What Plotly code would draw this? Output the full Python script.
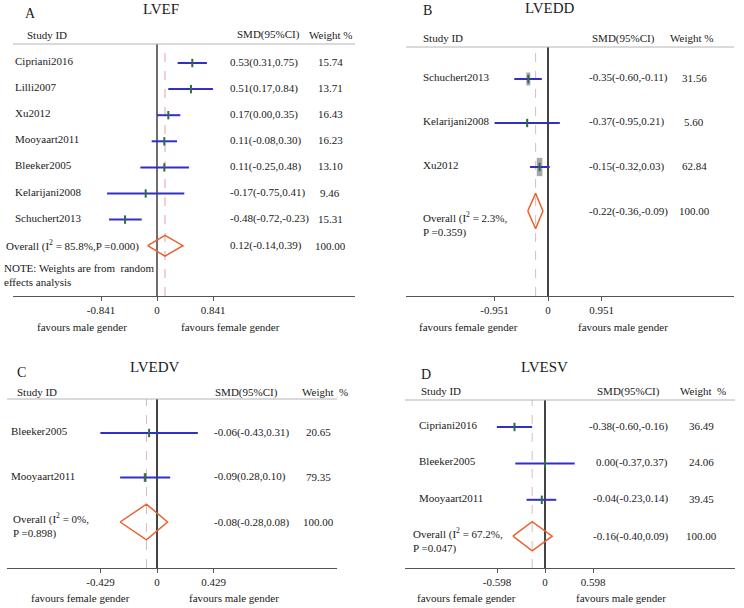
import plotly.graph_objects as go

W, H = 744, 608

# ---------------- data ----------------
# Panel A: LVEF
a_studies = ["Cipriani2016", "Lilli2007", "Xu2012", "Mooyaart2011", "Bleeker2005", "Kelarijani2008", "Schuchert2013"]
a_smd = [0.53, 0.51, 0.17, 0.11, 0.11, -0.17, -0.48]
a_lo = [0.31, 0.17, 0.00, -0.08, -0.25, -0.75, -0.72]
a_hi = [0.75, 0.84, 0.35, 0.30, 0.48, 0.41, -0.23]
a_ci_text = ["0.53(0.31,0.75)", "0.51(0.17,0.84)", "0.17(0.00,0.35)", "0.11(-0.08,0.30)",
             "0.11(-0.25,0.48)", "-0.17(-0.75,0.41)", "-0.48(-0.72,-0.23)"]
a_weight = [15.74, 13.71, 16.43, 16.23, 13.10, 9.46, 15.31]
a_overall = [0.12, -0.14, 0.39]
a_overall_text = "0.12(-0.14,0.39)"
a_overall_label = "Overall (I<sup>2</sup> = 85.8%,P =0.000)"
a_tick = 0.841

# Panel B: LVEDD
b_studies = ["Schuchert2013", "Kelarijani2008", "Xu2012"]
b_smd = [-0.35, -0.37, -0.15]
b_lo = [-0.60, -0.95, -0.32]
b_hi = [-0.11, 0.21, 0.03]
b_ci_text = ["-0.35(-0.60,-0.11)", "-0.37(-0.95,0.21)", "-0.15(-0.32,0.03)"]
b_weight = [31.56, 5.60, 62.84]
b_overall = [-0.22, -0.36, -0.09]
b_overall_text = "-0.22(-0.36,-0.09)"
b_overall_label = "Overall (I<sup>2</sup> = 2.3%,<br>P =0.359)"
b_tick = 0.951

# Panel C: LVEDV
c_studies = ["Bleeker2005", "Mooyaart2011"]
c_smd = [-0.06, -0.09]
c_lo = [-0.43, -0.28]
c_hi = [0.31, 0.10]
c_ci_text = ["-0.06(-0.43,0.31)", "-0.09(0.28,0.10)"]
c_weight = [20.65, 79.35]
c_overall = [-0.08, -0.28, 0.08]
c_overall_text = "-0.08(-0.28,0.08)"
c_overall_label = "Overall (I<sup>2</sup> = 0%,<br>P =0.898)"
c_tick = 0.429

# Panel D: LVESV
d_studies = ["Cipriani2016", "Bleeker2005", "Mooyaart2011"]
d_smd = [-0.38, 0.00, -0.04]
d_lo = [-0.60, -0.37, -0.23]
d_hi = [-0.16, 0.37, 0.14]
d_ci_text = ["-0.38(-0.60,-0.16)", "0.00(-0.37,0.37)", "-0.04(-0.23,0.14)"]
d_weight = [36.49, 24.06, 39.45]
d_overall = [-0.16, -0.40, 0.09]
d_overall_text = "-0.16(-0.40,0.09)"
d_overall_label = "Overall (I<sup>2</sup> = 67.2%,<br>P =0.047)"
d_tick = 0.598

titles = ["LVEF", "LVEDD", "LVEDV", "LVESV"]
letters = ["A", "B", "C", "D"]
favours = [("favours male gender", "favours female gender"),
           ("favours female gender", "favours male gender"),
           ("favours female gender", "favours male gender"),
           ("favours female gender", "favours male gender")]

# ---------------- layout geometry (pixels) ----------------
panels = [
    dict(studies=a_studies, smd=a_smd, lo=a_lo, hi=a_hi, ci=a_ci_text, wt=a_weight,
         ov=a_overall, ovt=a_overall_text, ovl=a_overall_label, tick=a_tick,
         x0=13, x1=355, zero=157, tickpx=56, top=44, bottom=296, row0=63, sp=26.1,
         name_x=13, ov_x=4, ov_shift=0, smd_x=228, smd_anchor="left", w_x=330,
         hdr=(25, 235, 307, 35), letter=(30, 13), title=(161, 9), fav=(82, 230, 327),
         box=(0, 0), zcol="#6e6e6e", zw=2, dcol="#e6a0a0", wlabel="Weight %"),
    dict(studies=b_studies, smd=b_smd, lo=b_lo, hi=b_hi, ci=b_ci_text, wt=b_weight,
         ov=b_overall, ovt=b_overall_text, ovl=b_overall_label, tick=b_tick,
         x0=406, x1=734, zero=548, tickpx=53.5, top=47, bottom=296, row0=79, sp=44,
         name_x=421, ov_x=421, ov_shift=-13, smd_x=587, smd_anchor="left", w_x=694,
         hdr=(421, 590, 668, 38), letter=(427, 11), title=(550, 8), fav=(468, 623, 327),
         box=(0.71, 2.31), zcol="#444444", zw=1.5, dcol="#d9bcbc", wlabel="Weight %"),
    dict(studies=c_studies, smd=c_smd, lo=c_lo, hi=c_hi, ci=c_ci_text, wt=c_weight,
         ov=c_overall, ovt=c_overall_text, ovl=c_overall_label, tick=c_tick,
         x0=7, x1=337, zero=157, tickpx=56.5, top=399, bottom=568, row0=433, sp=44.5,
         name_x=9, ov_x=11, ov_shift=-3, smd_x=212, smd_anchor="left", w_x=318,
         hdr=(15, 213, 300, 392), letter=(21, 372), title=(155, 367), fav=(80, 234, 598),
         box=(0.34, 1.0), zcol="#444444", zw=1.5, dcol="#d9bcbc", wlabel="Weight  %"),
    dict(studies=d_studies, smd=d_smd, lo=d_lo, hi=d_hi, ci=d_ci_text, wt=d_weight,
         ov=d_overall, ovt=d_overall_text, ovl=d_overall_label, tick=d_tick,
         x0=405, x1=735, zero=545, tickpx=48, top=400, bottom=568, row0=427, sp=36.4,
         name_x=417, ov_x=411, ov_shift=-4, smd_x=670, smd_anchor="right", w_x=701,
         hdr=(419, 595, 678, 391), letter=(426, 374), title=(544, 367), fav=(466, 621, 598),
         box=(0, 0), zcol="#444444", zw=1.5, dcol="#d9bcbc", wlabel="Weight  %"),
]

FONT = "Liberation Serif"
TXT = "#1a1a1a"
CI_COL = "#3030c8"
PT_COL = "#2d6e3e"
DIA_COL = "#e8622f"

fig = go.Figure()
annotations = []
shapes = []
layout = {}


def px(xp):
    return xp / W


def py(yp):
    return 1 - yp / H


for i, p in enumerate(panels, start=1):
    sx = "" if i == 1 else str(i)
    xref, yref = "x" + sx, "y" + sx
    scale = p["tickpx"] / p["tick"]
    xr = [(p["x0"] - p["zero"]) / scale, (p["x1"] - p["zero"]) / scale]
    yr = [1 + (p["bottom"] - p["row0"]) / p["sp"], 1 - (p["row0"] - p["top"]) / p["sp"]]
    n = len(p["studies"])
    rows = list(range(1, n + 1))
    ov_row = n + 1

    layout["xaxis" + sx] = dict(
        domain=[px(p["x0"]), px(p["x1"])], range=xr, anchor=yref,
        tickvals=[-p["tick"], 0, p["tick"]],
        ticktext=[f"-{p['tick']:.3f}", "0", f"{p['tick']:.3f}"],
        ticks="outside", ticklen=4, tickcolor="#555", showline=True, linecolor="#555",
        linewidth=1, showgrid=False, zeroline=True, zerolinecolor=p["zcol"],
        zerolinewidth=p["zw"], tickfont=dict(family=FONT, size=11, color=TXT),
        fixedrange=True,
    )
    layout["yaxis" + sx] = dict(
        domain=[py(p["bottom"]), py(p["top"])], range=yr, anchor=xref,
        visible=False, showgrid=False, zeroline=False, fixedrange=True,
    )

    # header line
    shapes.append(dict(type="line", xref=xref + " domain", yref=yref + " domain",
                       x0=0, x1=1, y0=1, y1=1, line=dict(color="#b4b4b4", width=1)))
    # dashed overall line
    shapes.append(dict(type="line", xref=xref, yref=yref + " domain",
                       x0=p["ov"][0], x1=p["ov"][0], y0=0, y1=1,
                       line=dict(color=p["dcol"], width=1, dash="dash"), layer="below"))
    # weight boxes
    kw, kh = p["box"]
    if kw > 0:
        for r, e, w in zip(rows, p["smd"], p["wt"]):
            hw = kw * w ** 0.5 / 2 / scale
            hh = kh * w ** 0.5 / 2 / p["sp"]
            shapes.append(dict(type="rect", xref=xref, yref=yref, x0=e - hw, x1=e + hw,
                               y0=r - hh, y1=r + hh, fillcolor="#a8a8a8",
                               line=dict(width=0), layer="below"))

    # CI lines
    cx, cy = [], []
    for r, lo, hi in zip(rows, p["lo"], p["hi"]):
        cx += [lo, hi, None]
        cy += [r, r, None]
    fig.add_trace(go.Scatter(x=cx, y=cy, mode="lines", xaxis=xref, yaxis=yref,
                             line=dict(color=CI_COL, width=2), hoverinfo="skip"))
    # point estimates
    fig.add_trace(go.Scatter(x=p["smd"], y=rows, mode="markers", xaxis=xref, yaxis=yref,
                             marker=dict(symbol="line-ns", size=6,
                                         line=dict(color=PT_COL, width=2)),
                             hoverinfo="skip"))
    # overall diamond
    e, lo, hi = p["ov"]
    h = 0.4
    fig.add_trace(go.Scatter(x=[lo, e, hi, e, lo], y=[ov_row, ov_row - h, ov_row, ov_row + h, ov_row],
                             mode="lines", xaxis=xref, yaxis=yref,
                             line=dict(color=DIA_COL, width=1.5), hoverinfo="skip"))

    f = dict(family=FONT, size=11, color=TXT)
    # row texts
    for r, name, ci, w in zip(rows, p["studies"], p["ci"], p["wt"]):
        annotations.append(dict(x=px(p["name_x"]), y=r, xref="paper", yref=yref, text=name,
                                showarrow=False, xanchor="left", yanchor="middle", font=f, yshift=2))
        annotations.append(dict(x=px(p["smd_x"]), y=r, xref="paper", yref=yref, text=ci,
                                showarrow=False, xanchor=p["smd_anchor"], yanchor="middle",
                                font=f, yshift=1))
        annotations.append(dict(x=px(p["w_x"]), y=r, xref="paper", yref=yref, text=f"{w:.2f}",
                                showarrow=False, xanchor="center", yanchor="middle",
                                font=f, yshift=1))
    # overall texts
    annotations.append(dict(x=px(p["ov_x"]), y=ov_row, xref="paper", yref=yref, text=p["ovl"],
                            showarrow=False, xanchor="left", yanchor="middle", align="left",
                            font=f, yshift=p["ov_shift"]))
    annotations.append(dict(x=px(p["smd_x"]), y=ov_row, xref="paper", yref=yref, text=p["ovt"],
                            showarrow=False, xanchor=p["smd_anchor"], yanchor="middle", font=f))
    annotations.append(dict(x=px(p["w_x"]), y=ov_row, xref="paper", yref=yref, text="100.00",
                            showarrow=False, xanchor="center", yanchor="middle", font=f))

    # headers
    hs, hm, hw_, hy = p["hdr"]
    for hx, txt in [(hs, "Study ID"), (hm, "SMD(95%CI)"), (hw_, p["wlabel"])]:
        annotations.append(dict(x=px(hx), y=py(hy), xref="paper", yref="paper", text=txt,
                                showarrow=False, xanchor="left", yanchor="middle", font=f))
    # panel letter and title
    lx, ly = p["letter"]
    annotations.append(dict(x=px(lx), y=py(ly), xref="paper", yref="paper", text=letters[i - 1],
                            showarrow=False, xanchor="center", yanchor="middle",
                            font=dict(family=FONT, size=14, color=TXT)))
    tx, ty = p["title"]
    annotations.append(dict(x=px(tx), y=py(ty), xref="paper", yref="paper", text=titles[i - 1],
                            showarrow=False, xanchor="center", yanchor="middle",
                            font=dict(family=FONT, size=15, color=TXT)))
    # favours labels
    fl, fr, fy = p["fav"]
    annotations.append(dict(x=px(fl), y=py(fy), xref="paper", yref="paper", text=favours[i - 1][0],
                            showarrow=False, xanchor="center", yanchor="middle", font=f))
    annotations.append(dict(x=px(fr), y=py(fy), xref="paper", yref="paper", text=favours[i - 1][1],
                            showarrow=False, xanchor="center", yanchor="middle", font=f))

# NOTE in panel A
annotations.append(dict(x=px(2), y=py(275), xref="paper", yref="paper",
                        text="NOTE: Weights are from  random<br>effects analysis",
                        showarrow=False, xanchor="left", yanchor="middle", align="left",
                        font=dict(family=FONT, size=11, color=TXT)))

fig.update_layout(
    width=W, height=H, margin=dict(l=0, r=0, t=0, b=0),
    paper_bgcolor="white", plot_bgcolor="white", showlegend=False,
    annotations=annotations, shapes=shapes, **layout,
)

fig.write_html("out.html", config={"displayModeBar": False},
               post_script="document.body.style.margin='0';document.body.style.overflow='hidden';")
